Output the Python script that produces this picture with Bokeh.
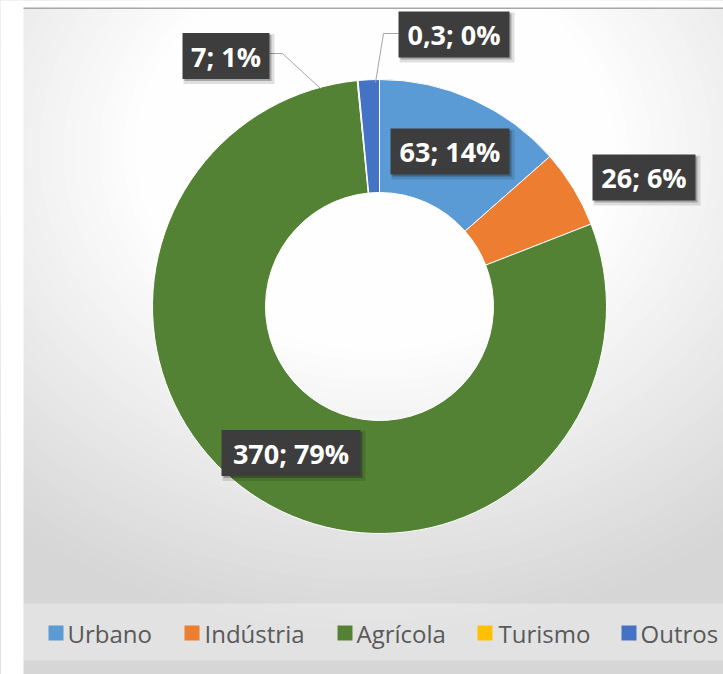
import numpy as np
from bokeh.plotting import figure
from bokeh.models import Range1d
from bokeh.core.properties import value
from bokeh.embed import file_html
from bokeh.resources import INLINE

# ---- data ----
categories = ["Urbano", "Indústria", "Agrícola", "Turismo", "Outros"]
values = [63, 26, 370, 0.3, 7]
label_texts = ["63; 14%", "26; 6%", "370; 79%", "0,3; 0%", "7; 1%"]
colors = ["#5B9BD5", "#ED7D31", "#548235", "#FFC000", "#4472C4"]

# ---- layout (screen-like coordinates, y down is negative) ----
CX, CY = 379, -306
R_OUT, R_IN = 227, 114
lab_x = [449.5, 643.5, 290.5, 453.5, 225.5]
lab_y = [-151, -177, -452.5, -34, -55.5]
box_w = [119, 103, 139, 111, 87]
BOX_H = 46
leg_sq_x = [55.5, 191.5, 344.5, 484.5, 628.5]
leg_tx = [67, 204, 356, 498, 640]
LEG_Y = -632.5

p = figure(width=723, height=674, output_backend="svg", toolbar_location=None,
           x_range=Range1d(0, 723), y_range=Range1d(-674, 0),
           x_axis_location=None, y_axis_location=None,
           min_border_left=0, min_border_right=0, min_border_top=0, min_border_bottom=0)
p.xgrid.visible = False
p.ygrid.visible = False
p.outline_line_color = None
p.background_fill_color = "#d6d6d6"
p.border_fill_color = "#d6d6d6"

# radial gradient background approximation
gx, gy = 375, -150
radii = np.arange(700, 190, -10)
for r in radii:
    g = int(round(max(214, 254 - 0.14 * max(0, r - 200))))
    c = "#%02x%02x%02x" % (g, g, g)
    p.ellipse(x=[gx], y=[gy], width=[2 * r * 1.2], height=[2 * r], fill_color=c, line_color=None)

# white page outside the chart area
p.rect(x=[11.5], y=[-337], width=[23], height=[674], fill_color="white", line_color=None)
p.rect(x=[361.5], y=[-3.5], width=[723], height=[7], fill_color="white", line_color=None)

# legend band
p.rect(x=[373], y=[-631.5], width=[700], height=[57], fill_color="white", fill_alpha=0.3, line_color=None)

# top border line
p.segment(x0=[23], y0=[-7.8], x1=[723], y1=[-7.8], line_color="#a8a8a8", line_width=1.5)

# donut
vals = np.array(values, dtype=float)
total = vals.sum()
cum = np.cumsum(vals)
prev = cum - vals
start = np.pi / 2 - 2 * np.pi * prev / total
end = np.pi / 2 - 2 * np.pi * cum / total
p.annular_wedge(x=CX, y=CY, inner_radius=R_IN, outer_radius=R_OUT,
                start_angle=list(start), end_angle=list(end), direction="clock",
                fill_color=colors, line_color="white", line_width=1)

# leader lines
p.line([269, 282, 320], [-53, -53, -88], line_color="#a6a6a6", line_width=1)
p.line([398, 383, 375], [-33, -33, -82], line_color="#a6a6a6", line_width=1)

# data label boxes with shadow
p.rect(x=[x + 3 for x in lab_x], y=[y - 3 for y in lab_y], width=[w + 4 for w in box_w], height=BOX_H + 4,
       fill_color="black", fill_alpha=0.12, line_color=None)
p.rect(x=[x + 2 for x in lab_x], y=[y - 2 for y in lab_y], width=box_w, height=BOX_H,
       fill_color="black", fill_alpha=0.25, line_color=None)
p.rect(x=lab_x, y=lab_y, width=box_w, height=BOX_H, fill_color="#3d3d3d", line_color=None)
p.text(x=lab_x, y=lab_y, text=label_texts, text_align="center", text_baseline="middle",
       text_color="white", text_font=value("Open Sans"), text_font_style="bold",
       text_font_size="27px")

# legend
p.rect(x=leg_sq_x, y=LEG_Y, width=15, height=15, fill_color=colors, line_color=None)
p.text(x=leg_tx, y=[LEG_Y] * 5, text=categories, text_align="left", text_baseline="middle",
       text_color="#595959", text_font=value("Open Sans"), text_font_size="24px")

open("out.html", "w").write(file_html(p, INLINE))
